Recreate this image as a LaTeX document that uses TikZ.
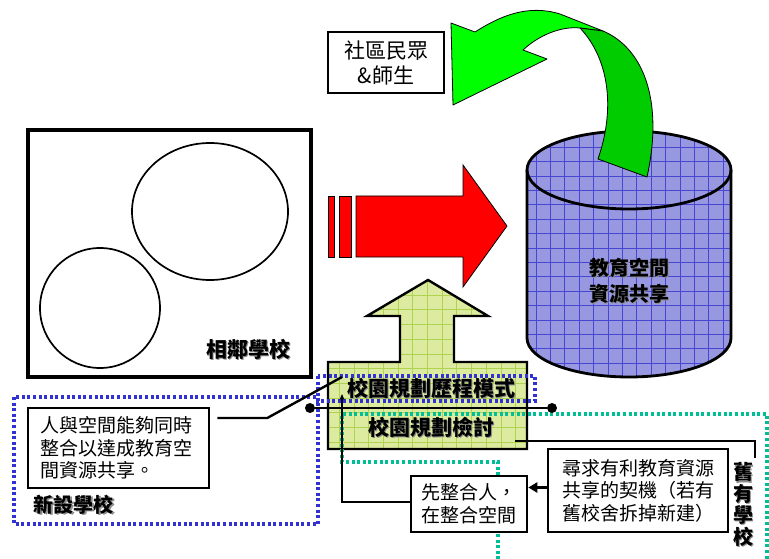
\documentclass[tikz,border=0pt]{standalone}
\usepackage{fontspec}
\usetikzlibrary{shapes.geometric,arrows.meta}
\newfontfamily\cjk{Noto Sans CJK TC}
\definecolor{cylfill}{RGB}{152,152,224}
\definecolor{cylgrid}{RGB}{70,70,210}
\definecolor{yfill}{RGB}{220,235,160}
\definecolor{ygrid}{RGB}{175,210,80}
\definecolor{gl}{RGB}{0,255,0}
\definecolor{gd}{RGB}{0,204,0}
\definecolor{bdot}{RGB}{50,50,210}
\definecolor{tdot}{RGB}{0,190,150}
\newcommand\shd[1]{\makebox[0pt][l]{\hspace{1.3pt}\raisebox{-1.3pt}{\color{black!45}#1}}#1}
\begin{document}
\begin{tikzpicture}[x=1pt,y=-1pt,
  every node/.style={font=\cjk},
  boxed/.style={draw, line width=2.6pt, fill=white, inner sep=0pt},
  regtxt/.style={font=\cjk\fontsize{19}{22.5}\selectfont},
  boldlbl/.style={font=\cjk\bfseries\fontsize{21}{26}\selectfont, inner sep=0pt, align=center},
  conn/.style={line width=2.4pt},
  bluedot/.style={draw=bdot, line width=3.2pt, dash pattern=on 3pt off 2.6pt},
  tealdot/.style={draw=tdot, line width=3.2pt, dash pattern=on 3pt off 2.6pt}]
\useasboundingbox (0,0) rectangle (769,559);

% neighbouring school
\node[draw, line width=3.4pt, minimum width=283, minimum height=247, inner sep=0] (nbr) at (169.5,253.5) {};
\node[draw, ellipse, line width=1.7pt, minimum width=156, minimum height=137, inner sep=0] (e1) at (210,211.5) {};
\node[draw, circle, line width=1.7pt, minimum size=120, inner sep=0] (c1) at (100,308) {};
\node[boldlbl] (nbrlbl) at (248,350) {\shd{相鄰學校}};

% red arrow
\begin{scope}[fill=red, draw=black, line width=0.8pt]
\filldraw (328,196) rectangle (334,257);
\filldraw (339,196) rectangle (351,257);
\filldraw (356,196) -- (463,196) -- (463,165) -- (507,226) -- (463,287) -- (463,257) -- (356,257) -- cycle;
\end{scope}

% cylinder
\def\cylpath{(527,170) -- (527,338) arc[start angle=180,end angle=360,x radius=102pt,y radius=39pt] -- (731,170) arc[start angle=0,end angle=180,x radius=102pt,y radius=39pt] -- cycle}
\fill[cylfill] \cylpath;
\begin{scope}
\clip \cylpath;
\draw[cylgrid, line width=0.5pt, shift={(3,3)}] (500,120) grid[step=14.4pt] (760,400);
\end{scope}
\draw[line width=2.8pt] \cylpath;
\draw[line width=2.8pt] (731,170) arc[start angle=0,end angle=-180,x radius=102pt,y radius=39pt];
\node[boldlbl, font=\cjk\bfseries\fontsize{20}{26}\selectfont] (cyltxt) at (629,281) {\shd{教育空間}\\\shd{資源共享}};

% green curved arrow
\filldraw[fill=gl, draw=black, line width=0.8pt, line join=round]
  (451,23) -- (475,32) .. controls (500,16) and (528,4) .. (560,14) -- (603,31) -- (580,28)
  .. controls (560,26) and (538,36) .. (523,50) -- (547,59) -- (453,105) -- cycle;
\filldraw[fill=gd, draw=black, line width=0.8pt, line join=round]
  (580,28) -- (603,31) .. controls (643,48) and (664,100) .. (647,177) -- (598,159)
  .. controls (615,110) and (610,60) .. (580,28) -- cycle;

% community box
\node[boxed, minimum width=116, minimum height=61, align=center, font=\cjk\fontsize{21}{25}\selectfont] (comm) at (386,62.5) {社區民眾\\\&師生};

% green up arrow
\def\uppath{(328,362) -- (400,362) -- (400,316) -- (367,316) -- (428,280) -- (488,316) -- (454,316) -- (454,362) -- (527,362) -- (527,449) -- (328,449) -- cycle}
\fill[yfill] \uppath;
\begin{scope}
\clip \uppath;
\draw[ygrid, line width=0.6pt, shift={(1,1)}] (320,270) grid[step=14.7pt] (540,460);
\end{scope}
\draw[line width=2.4pt, line join=miter] \uppath;

% dotted regions
\draw[bluedot] (14,397) rectangle (318,524);
\draw[bluedot] (318,376) rectangle (535,401);
\draw[tealdot] (498,565) -- (498,462) -- (342,462) -- (342,414) -- (767,414) -- (767,565);

\node[boldlbl] (mode) at (431,389) {\shd{校園規劃歷程模式}};
\node[boldlbl] (review) at (431,428) {\shd{校園規劃檢討}};

% line with dots
\node[circle, fill=black, inner sep=0, minimum size=10] (d1) at (310,408) {};
\node[circle, fill=black, inner sep=0, minimum size=10] (d2) at (552,408) {};
\draw[line width=2.8pt] (d1) -- (d2);

% existing school bracket
\coordinate (rv) at (515,441);
\coordinate (rvend) at (755,458);
\draw[conn] (rv) -- (rvend |- rv) -- (rvend);
\node[boldlbl, font=\cjk\bfseries\fontsize{20}{19}\selectfont] (old) at (743,505) {\shd{舊}\\\shd{有}\\\shd{學}\\\shd{校}};

% seek box
\node[boxed, regtxt, minimum width=180, minimum height=83, align=center] (seek) at (638,490.5) {尋求有利教育資源\\共享的契機（若有\\舊校舍拆掉新建）};
% first box
\node[boxed, regtxt, minimum width=116, minimum height=56, align=left] (first) at (469,504) {先整合人，\\在整合空間};
\draw[line width=2.8pt, -{Triangle[length=9pt,width=10pt]}] ([yshift=3pt]seek.west) -- ([yshift=3pt]seek.west -| first.east);
\coordinate (upend) at (342,394);
\draw[conn, -{Stealth[length=6pt,width=5pt]}] ([yshift=2pt]first.west) -| (upend);

% new school
\node[boxed, regtxt, minimum width=181, minimum height=80, align=left, text width=156] (ppl) at (118.5,448) {人與空間能夠同時\\整合以達成教育空\\間資源共享。};
\coordinate (pplend) at (342,377);
\draw[conn] ([xshift=7pt,yshift=30pt]ppl.east) -- ([xshift=57pt,yshift=30pt]ppl.east) -- (pplend);
\node[boldlbl, font=\cjk\bfseries\fontsize{20}{26}\selectfont] (newlbl) at (74,505) {\shd{新設學校}};
\end{tikzpicture}
\end{document}
